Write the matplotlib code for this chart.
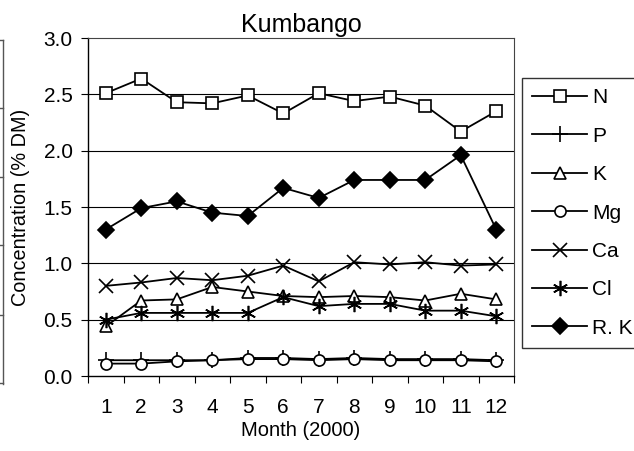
import matplotlib
matplotlib.use('Agg')
import matplotlib.pyplot as plt
from matplotlib.lines import Line2D
import numpy as np

plt.rcParams['font.family'] = ['Liberation Sans', 'DejaVu Sans']

months = list(range(1, 13))
month_labels = [str(m) for m in months]

n_conc = [2.51, 2.64, 2.43, 2.42, 2.49, 2.33, 2.51, 2.44, 2.48, 2.40, 2.17, 2.35]
p_conc = [0.14, 0.14, 0.14, 0.14, 0.16, 0.16, 0.15, 0.16, 0.15, 0.15, 0.15, 0.14]
k_conc = [0.44, 0.67, 0.68, 0.79, 0.75, 0.71, 0.70, 0.71, 0.70, 0.67, 0.73, 0.68]
mg_conc = [0.11, 0.11, 0.13, 0.14, 0.15, 0.15, 0.14, 0.15, 0.14, 0.14, 0.14, 0.13]
ca_conc = [0.80, 0.83, 0.87, 0.85, 0.89, 0.98, 0.84, 1.01, 0.99, 1.01, 0.98, 0.99]
cl_conc = [0.50, 0.56, 0.56, 0.56, 0.56, 0.70, 0.62, 0.64, 0.64, 0.58, 0.58, 0.53]
rk_conc = [1.30, 1.49, 1.55, 1.45, 1.42, 1.67, 1.58, 1.74, 1.74, 1.74, 1.96, 1.30]

series = [
    ('N', n_conc, dict(marker='s', ms=8, mfc='white')),
    ('P', p_conc, dict(marker='+', ms=11)),
    ('K', k_conc, dict(marker='^', ms=9, mfc='white')),
    ('Mg', mg_conc, dict(marker='o', ms=8, mfc='white')),
    ('Ca', ca_conc, dict(marker='x', ms=10)),
    ('Cl', cl_conc, dict(marker=(6, 2, 0), ms=11)),
    ('R. K', rk_conc, dict(marker='D', ms=8, mfc='black')),
]

W, H = 634, 451
fig = plt.figure(figsize=(W / 100, H / 100), dpi=100)
ax = fig.add_axes([88 / W, (H - 376) / H, 426 / W, 338 / H])

handles = []
for name, vals, style in series:
    ln, = ax.plot(months, vals, color='black', lw=1.3, mec='black', mew=1.2,
                  label=name, zorder=3, **style)
    handles.append(ln)

ax.set_xlim(0.5, 12.5)
ax.set_ylim(0, 3.0)
ax.set_yticks(np.arange(0, 3.01, 0.5))
ax.set_yticklabels(['%.1f' % v for v in np.arange(0, 3.01, 0.5)])
ax.set_xticks(months)
ax.set_xticklabels(month_labels)
ax.set_xticks(np.arange(0.5, 12.6, 1), minor=True)

ax.tick_params(axis='x', which='major', length=0, pad=16, labelsize=15)
ax.tick_params(axis='x', which='minor', length=5, width=0.8, direction='out')
ax.tick_params(axis='y', length=5, width=0.8, direction='out', pad=6, labelsize=15)

for y in np.arange(0.5, 2.6, 0.5):
    ax.axhline(y, color='black', lw=0.8, zorder=1)

for side in ['left', 'bottom']:
    ax.spines[side].set_linewidth(1.0)
for side in ['top', 'right']:
    ax.spines[side].set_linewidth(0.8)
    ax.spines[side].set_color('#444444')

ax.set_title('Kumbango', fontsize=18, pad=4)
ax.set_xlabel('Month (2000)', fontsize=14.5, labelpad=3)
ax.set_ylabel('Concentration (% DM)', fontsize=14.3)
ax.yaxis.set_label_coords(-58 / 426, 0.5)

leg = fig.legend(handles=handles, loc='upper left',
                 bbox_to_anchor=(522 / W, 1 - 78 / H), borderaxespad=0,
                 fontsize=15, frameon=True, fancybox=False, edgecolor='black',
                 handlelength=2.6, handletextpad=0.25, labelspacing=0.93,
                 borderpad=0.5)
leg.get_frame().set_linewidth(1.0)

# edge of the neighbouring panel on the left
fig.add_artist(Line2D([3 / W, 3 / W], [1 - 40 / H, 1 - 384 / H],
                      transform=fig.transFigure, color='#555555', lw=1.0))
for ty in [40, 108, 177, 245, 315, 383]:
    fig.add_artist(Line2D([0, 3 / W], [1 - ty / H, 1 - ty / H],
                          transform=fig.transFigure, color='#555555', lw=1.0))

fig.savefig('out.png', dpi=100)
